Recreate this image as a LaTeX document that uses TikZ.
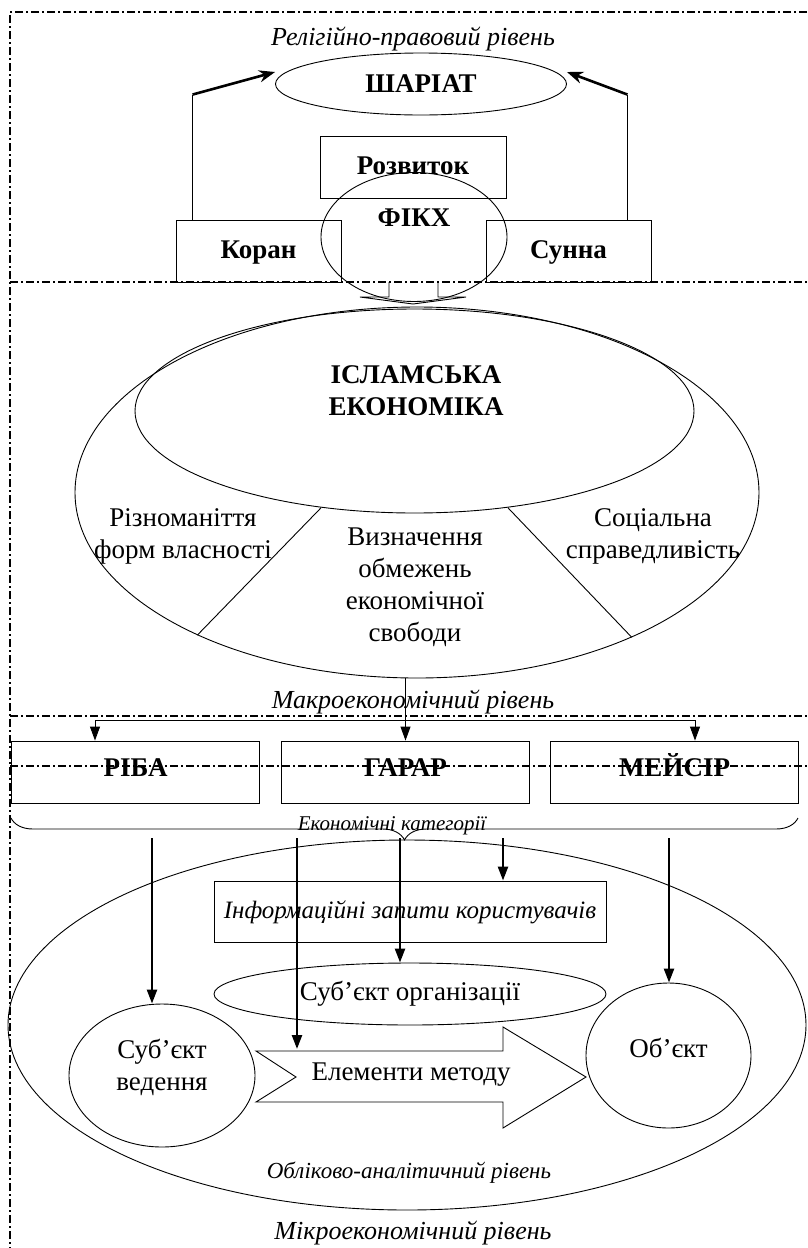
\documentclass[tikz,border=0pt]{standalone}
\usepackage{fontspec}
\setmainfont{Liberation Serif}
\usepackage{tikz}
\usetikzlibrary{calc,positioning,shapes.geometric,arrows.meta,decorations.pathreplacing}
\newcommand{\txtmain}{\fontsize{27}{32}\selectfont}
\newcommand{\txtbold}{\fontsize{27}{32}\selectfont\bfseries}
\newcommand{\txtlevel}{\fontsize{26}{30}\selectfont\itshape}
\newcommand{\txtinfo}{\fontsize{25}{28}\selectfont\itshape}
\tikzstyle{box}       = [rectangle, draw, line width=0.9pt, inner sep=0pt, font=\txtbold,
                         text height=19pt, text depth=4pt]
\tikzstyle{category}  = [box, text depth=10pt, minimum width=248, minimum height=62]
\tikzstyle{oval}      = [ellipse, draw, line width=0.9pt, inner sep=0pt, font=\txtmain]
\tikzstyle{level}     = [font=\txtlevel]
\tikzstyle{border}    = [line width=1.5pt, dash pattern=on 8pt off 3pt on 2pt off 3pt]
\tikzstyle{feed}      = [line width=0.9pt, -{Triangle[length=14pt,width=10pt]}]
\tikzstyle{arrow}     = [line width=2.4pt, -{Triangle[length=14pt,width=10pt]}]
\tikzstyle{top arrow} = [line width=2.6pt, -{Stealth[length=16pt,width=12pt]}]

\begin{document}
\begin{tikzpicture}[x=1pt, y=-1pt]
	\useasboundingbox (0,0) rectangle (807,1248);
	\draw[border] (807,12) -- (10,12) -- (10,1248);
	\draw[border] (10,282) -- (807,282);
	\node[level] (rellevel) at (413,39) {Релігійно-правовий рівень};
	\node[oval, font=\txtbold, minimum width=291, minimum height=62] (shariat) at (421,84) {ШАРІАТ};
	\node[box, minimum width=186, minimum height=62] (rozv) at (413,167) {Розвиток};
	\node[oval, minimum width=186, minimum height=129] (fiqh) at (414,237) {};
	\node[font=\txtbold] (fiqhtext) at (414,218) {ФІКХ};
	\node[box, minimum width=165, minimum height=62] (koran) at (258.5,251) {Коран};
	\node[box, minimum width=165, minimum height=62] (sunna) at (568.5,251) {Сунна};
	\draw[line width=0.9pt] ([xshift=17]koran.north west) -- ++(0,-125) coordinate (kup);
	\draw[top arrow] (kup) -- ([yshift=12]shariat.west);
	\draw[line width=0.9pt] ([xshift=-24]sunna.north east) -- ++(0,-125) coordinate (sup);
	\draw[top arrow] (sup) -- ([yshift=12]shariat.east);
	\draw[line width=0.9pt] (389,282) -- (389,297) -- (360,297) -- (413,304) -- (466,297) -- (438,297) -- (438,282);

	\node[oval, minimum width=684, minimum height=371] (econ) at (417,492.5) {};
	\node[oval, minimum width=559, minimum height=204] (islam) at (414.5,411) {};
	\node[font=\txtbold, align=center] (islamtext) at (416,391) {ІСЛАМСЬКА\\ЕКОНОМІКА};
	\draw[line width=0.9pt] (islam.226) -- (econ.213.5);
	\draw[line width=0.9pt] (islam.314) -- (econ.326);
	\node[font=\txtmain, align=center] (forms) at (183,536) {Різноманіття\\форм власності};
	\node[font=\txtmain, align=center] (limits) at (415,587) {Визначення\\обмежень\\економічної\\свободи};
	\node[font=\txtmain, align=center] (justice) at (653,536) {Соціальна\\справедливість};
	\node[level] (macrolevel) at (413,702) {Макроекономічний рівень};
	\draw[border] (10,716) -- (807,716);

	\node[category] (riba) at (135.5,772) {РІБА};
	\node[category] (garar) at (405.5,772) {ГАРАР};
	\node[category] (meisir) at (674.5,772) {МЕЙСІР};
	\draw[feed] (econ.south -| garar.north) -- (garar.north);
	\coordinate (fl) at (95,720);
	\coordinate (fr) at (695,720);
	\draw[line width=0.9pt] (fl) -- (fr);
	\draw[feed] (fl) -- (fl |- riba.north);
	\draw[feed] (fr) -- (fr |- meisir.north);
	\draw[border] (10,766) -- (807,766);
	\draw[decorate, decoration={brace, mirror, amplitude=22pt}, line width=0.9pt] (11,818) -- (798,818);
	\node[font=\fontsize{21}{24}\selectfont\itshape] (cats) at (392,826) {Економічні категорії};

	\node[oval, minimum width=798, minimum height=370] (acc) at (407,1025) {};
	\node[box, font=\txtinfo, text height=17pt, minimum width=392, minimum height=61] (info) at (410,911.5) {Інформаційні запити користувачів};
	\node[oval, minimum width=392, minimum height=62] (suborg) at (410,994) {Суб’єкт організації};
	\node[oval, minimum width=186, minimum height=143] (subved) at (162,1075.5) {};
	\node[font=\txtmain, align=center] (subvedtext) at (162,1067) {Суб’єкт\\ведення};
	\node[oval, minimum width=165, minimum height=145] (object) at (668.5,1055.5) {};
	\node[font=\txtmain] (objecttext) at (668.5,1048) {Об’єкт};
	\draw[line width=0.9pt] (256,1051) coordinate (mtl) -- (503,1051) -- (503,1027) -- (586,1077) -- (503,1128) -- (503,1102) -- (256,1102) -- (296,1077) -- cycle;
	\node[font=\txtmain] (method) at (411,1075) {Елементи методу};
	\foreach \n/\x in {a/152,b/297,c/400,d/503,e/669}
		\coordinate (\n) at (\x,838);
	\draw[arrow] (a) -- (a |- subved.north);
	\draw[arrow] (b) -- ([yshift=2]b |- mtl);
	\draw[arrow] (c) -- (c |- suborg.north);
	\draw[arrow] (d) -- (d |- info.north);
	\draw[arrow] (e) -- (e |- object.north);
	\node[font=\fontsize{23}{26}\selectfont\itshape] (acclevel) at (409,1173) {Обліково-аналітичний рівень};
	\node[level] (microlevel) at (413,1233) {Мікроекономічний рівень};
\end{tikzpicture}
\end{document}
